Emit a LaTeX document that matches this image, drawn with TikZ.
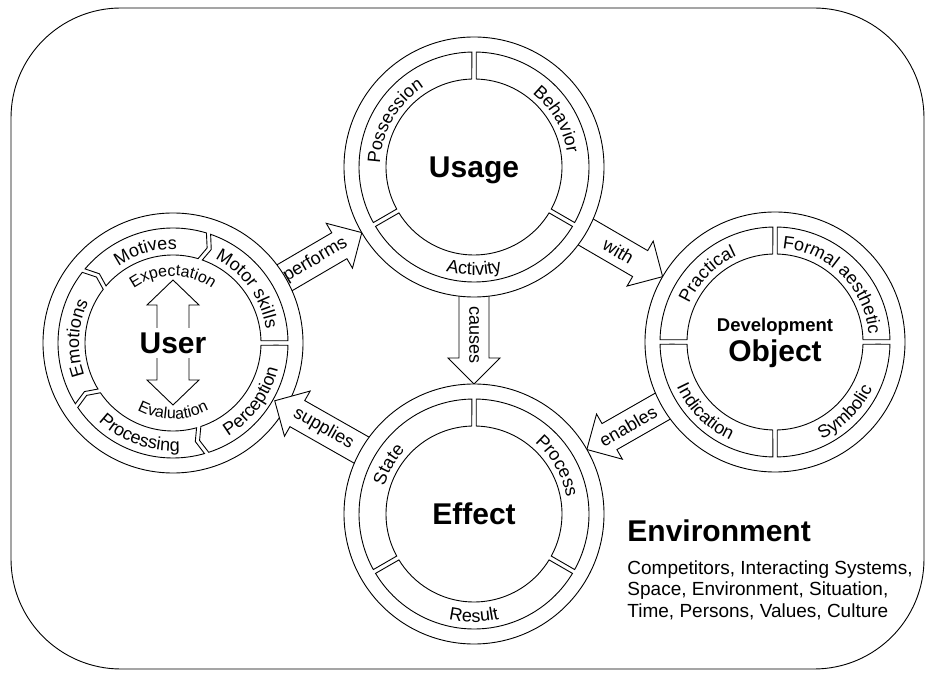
\documentclass[tikz,border=0pt]{standalone}
\usepackage{fontspec}
\setmainfont{Liberation Sans}
\usetikzlibrary{calc,decorations.text}

\newcommand\segfont{\fontsize{18}{18}\selectfont}
\newcommand\innerfont{\fontsize{16}{16}\selectfont}

% one piece of a ring: start angle, end angle, kink at start, kink at end
\newcommand\ringpart[4]{%
  \draw[part] (#1+1.1:115pt) arc[start angle=#1+1.1, end angle=#2-1.1, radius=115pt]
    -- (#2-1.25-#4:101pt) -- (#2-1.45:88pt)
    arc[start angle=#2-1.45, end angle=#1+1.45, radius=88pt]
    -- (#1+1.25-#3:101pt) -- cycle;}

% text along a ring piece
\newcommand\ringlabel[4]{%
  \path[decorate, decoration={text along path, text align=center, text={|\segfont|#4}}]
    (#1:#3) arc[start angle=#1, end angle=#2, radius=#3];}

% block arrow from #1 to #2, tip #3 away from the centre of #2
\newcommand\flowarrow[3]{%
  \coordinate (tail) at ($(#1)!118pt!(#2)$);
  \coordinate (tip) at ($(#2)!#3!(#1)$);
  \coordinate (neck) at ($(tip)!26pt!(tail)$);
  \draw[flow] ($(tail)!15pt!90:(tip)$) -- ($(neck)!15pt!90:(tip)$) -- ($(neck)!26pt!90:(tip)$)
    -- (tip) -- ($(neck)!26pt!-90:(tip)$) -- ($(neck)!15pt!-90:(tip)$)
    -- ($(tail)!15pt!-90:(tip)$) -- cycle;}

\begin{document}
\begin{tikzpicture}[x=1pt,y=1pt,line width=0.9pt,
  ringline/.style={draw,fill=white},
  part/.style={draw,fill=white},
  flow/.style={draw,fill=white,line join=miter},
  flowtext/.style={font=\segfont,inner sep=0pt},
  title/.style={font=\fontsize{30}{30}\selectfont\bfseries,text depth=0pt,inner sep=0pt}]

\useasboundingbox (0,0) rectangle (926,672);
\draw[rounded corners=110pt] (11,3) rectangle (924,664);

\coordinate (user) at (173,329);
\coordinate (usage) at (474,505);
\coordinate (devobj) at (775,330);
\coordinate (effect) at (474,158);

% arrows lying under the rings
\flowarrow{user}{usage}{130pt}
\flowarrow{usage}{devobj}{130pt}
\flowarrow{usage}{effect}{130pt}
\flowarrow{devobj}{effect}{130pt}

% User
\begin{scope}[shift={(user)}]
  \draw[ringline] (0,0) circle[radius=130pt];
  \ringpart{0}{72}{0}{3}
  \ringpart{72}{141}{3}{3}
  \ringpart{141}{213}{3}{3}
  \ringpart{213}{287}{3}{3}
  \ringpart{287}{360}{3}{0}
  \ringlabel{72}{0}{94pt}{Motor skills}
  \ringlabel{141}{72}{94pt}{Motives}
  \ringlabel{213}{141}{94pt}{Emotions}
  \ringlabel{213}{287}{108pt}{Processing}
  \ringlabel{287}{360}{108pt}{Perception}
  \path[decorate, decoration={text along path, text align=center, text={|\innerfont|Expectation}}]
    (160:67pt) arc[start angle=160, end angle=20, radius=67pt];
  \path[decorate, decoration={text along path, text align=center, text={|\innerfont|Evaluation}}]
    (200:76pt) arc[start angle=200, end angle=340, radius=76pt];
  \draw[part] (0,63) -- (26,38) -- (16,38) -- (16,-37) -- (26,-37) -- (0,-62)
    -- (-26,-37) -- (-16,-37) -- (-16,38) -- (-26,38) -- cycle;
\end{scope}
\node[title,fill=white,inner xsep=2pt,inner ysep=4.5pt] (user-label) at (user) {User};

% Usage
\begin{scope}[shift={(usage)}]
  \draw[ringline] (0,0) circle[radius=130pt];
  \ringpart{90}{210}{0}{0}
  \ringpart{210}{330}{0}{0}
  \ringpart{-30}{90}{0}{0}
  \ringlabel{210}{90}{94pt}{Possession}
  \ringlabel{90}{-30}{94pt}{Behavior}
  \ringlabel{210}{330}{108pt}{Activity}
\end{scope}
\node[title] (usage-label) at (usage) {Usage};

% Development Object
\begin{scope}[shift={(devobj)}]
  \draw[ringline] (0,0) circle[radius=130pt];
  \ringpart{0}{90}{0}{0}
  \ringpart{90}{180}{0}{0}
  \ringpart{180}{270}{0}{0}
  \ringpart{270}{360}{0}{0}
  \ringlabel{180}{90}{94pt}{Practical}
  \ringlabel{90}{0}{94pt}{Formal aesthetic}
  \ringlabel{180}{270}{108pt}{Indication}
  \ringlabel{270}{360}{108pt}{Symbolic}
\end{scope}
\node[anchor=base,font=\fontsize{18.5}{18.5}\selectfont\bfseries,inner sep=0pt] (devobj-label1)
  at ($(devobj)+(0,10.3)$) {Development};
\node[title,anchor=base] (devobj-label2) at ($(devobj)+(0,-19.7)$) {Object};

% this one lies over the User ring
\flowarrow{effect}{user}{117pt}

% Effect
\begin{scope}[shift={(effect)}]
  \draw[ringline] (0,0) circle[radius=130pt];
  \ringpart{90}{210}{0}{0}
  \ringpart{210}{330}{0}{0}
  \ringpart{-30}{90}{0}{0}
  \ringlabel{210}{90}{94pt}{State}
  \ringlabel{90}{-30}{94pt}{Process}
  \ringlabel{210}{330}{108pt}{Result}
\end{scope}
\node[title] (effect-label) at (effect) {Effect};

% arrow texts
\path (user) -- (usage) node[flowtext,pos=.473,sloped] (performs) {performs};
\path (usage) -- (devobj) node[flowtext,pos=.48,sloped] (with) {with};
\path (usage) -- (effect) node[flowtext,pos=.484,rotate=-90] (causes) {causes};
\path (devobj) -- (effect) node[flowtext,pos=.488,sloped] (enables) {enables};
\path (effect) -- (user) node[flowtext,pos=.5,sloped] (supplies) {supplies};

% Environment
\node[anchor=base west,font=\fontsize{30}{30}\selectfont\bfseries,inner sep=0pt] (env-title)
  at (627,130.3) {Environment};
\node[anchor=base west,font=\fontsize{19}{19}\selectfont,inner sep=0pt] (env-line1)
  at (627,97.7) {Competitors, Interacting Systems,};
\node[anchor=base west,font=\fontsize{19}{19}\selectfont,inner sep=0pt] (env-line2)
  at (627,76) {Space, Environment, Situation,};
\node[anchor=base west,font=\fontsize{19}{19}\selectfont,inner sep=0pt] (env-line3)
  at (627,54.7) {Time, Persons, Values, Culture};
\end{tikzpicture}
\end{document}
